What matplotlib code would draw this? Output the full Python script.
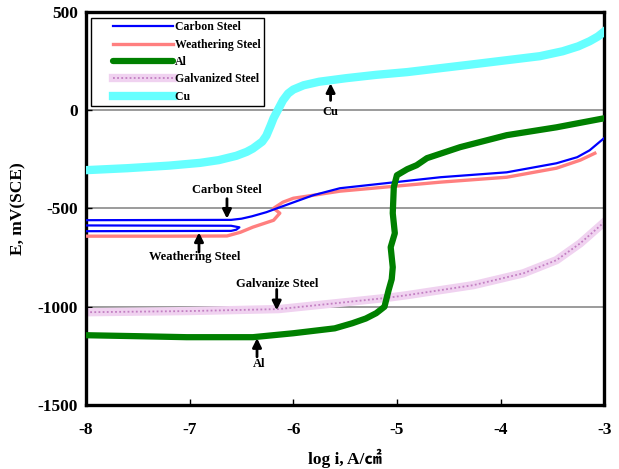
#!/usr/bin/env python3
# -*- coding: utf-8 -*-

"""
Polarization curves of several metals (E vs log i)
"""

import matplotlib.pyplot as plt
from matplotlib.legend_handler import HandlerLine2D, HandlerTuple
from matplotlib.lines import Line2D

plt.switch_backend('agg')
plt.rcParams['font.family'] = ['Liberation Serif', 'Noto Sans CJK SC', 'DejaVu Sans']
plt.rcParams['font.weight'] = 'bold'
plt.rcParams['axes.unicode_minus'] = False

# carbon steel (blue) - three cathodic sweeps then the anodic branch
carbon_x = [-8.3, -6.6, -6.55, -6.52, -6.6, -8.3, -8.3, -6.6, -6.5, -6.4,
            -6.26, -6.13, -5.81, -5.55, -4.58, -3.94, -3.46, -3.26, -3.14, -3.0]
carbon_e = [-616, -614, -608, -596, -588, -586, -560, -558, -552, -540,
            -519, -494, -433, -397, -341, -316, -270, -239, -204, -142]

# weathering steel (red)
weather_x = [-8.0, -7.2, -6.64, -6.51, -6.39, -6.19, -6.13, -6.19, -6.10,
             -6.0, -5.81, -5.55, -4.58, -3.94, -3.46, -3.23, -3.09]
weather_e = [-641, -641, -640, -621, -595, -560, -524, -499, -468,
             -448, -433, -412, -366, -341, -295, -254, -219]

# aluminium (green)
al_x = [-8.0, -7.5, -7.03, -6.39, -6.0, -5.6, -5.43, -5.3, -5.2, -5.12, -5.08,
        -5.05, -5.04, -5.06, -5.02, -5.04, -5.03, -5.0, -4.9, -4.81, -4.71,
        -4.39, -3.94, -3.46, -3.0]
al_e = [-1145, -1150, -1155, -1155, -1135, -1110, -1084, -1060, -1033, -1000,
        -916, -860, -799, -697, -626, -524, -392, -331, -300, -280, -244,
        -188, -127, -87, -41]

# galvanized steel (pink dotted)
galv_x = [-8.0, -7.0, -6.14, -5.55, -5.1, -4.9, -4.26, -3.78, -3.46, -3.23, -3.0]
galv_e = [-1028, -1022, -1012, -980, -955, -941, -890, -830, -763, -677, -570]

# copper (cyan)
cu_x = [-8.0, -7.6, -7.2, -6.9, -6.72, -6.55, -6.45, -6.39, -6.3, -6.26,
        -6.22, -6.19, -6.15, -6.1, -6.05, -6.0, -5.9, -5.75, -5.49, -5.2,
        -4.9, -4.26, -3.62, -3.4, -3.25, -3.14, -3.06, -3.0]
cu_e = [-305, -295, -282, -268, -254, -232, -212, -195, -160, -130,
        -80, -40, 0, 50, 85, 105, 127, 145, 163, 180,
        194, 234, 275, 300, 325, 351, 375, 400]

x_ticks = [-8, -7, -6, -5, -4, -3]
y_ticks = [500, 0, -500, -1000, -1500]


class ShiftedLine(HandlerLine2D):
    # leave a gap before the legend sample line
    def create_artists(self, legend, orig_handle, xdescent, ydescent,
                       width, height, fontsize, trans):
        shift = 1.6 * fontsize
        return super().create_artists(legend, orig_handle, xdescent - shift,
                                      ydescent, width - shift, height, fontsize, trans)


fig = plt.figure(figsize=(6.19, 4.69), dpi=100)
ax = fig.add_axes([0.139, 0.1365, 0.837, 0.838])

for g in [0, -500, -1000]:
    ax.axhline(g, color='#808080', lw=1.1, zorder=1)

h_c, = ax.plot(carbon_x, carbon_e, color='#0000ff', lw=1.6, zorder=4)
h_w, = ax.plot(weather_x, weather_e, color='#ff7f7f', lw=2.4, zorder=3)
h_a, = ax.plot(al_x, al_e, color='#008000', lw=4.5, solid_capstyle='round', zorder=5)
g1, = ax.plot(galv_x, galv_e, color='#f0d2f0', lw=6, zorder=2)
g2, = ax.plot(galv_x, galv_e, color='#c27fc2', lw=1.3, ls=(0, (1, 1.3)), zorder=2)
h_u, = ax.plot(cu_x, cu_e, color='#66ffff', lw=6, zorder=6)

ax.set_xlim(-8, -3)
ax.set_ylim(-1500, 500)
ax.set_xticks(x_ticks)
ax.set_yticks(y_ticks)
ax.tick_params(direction='in', length=4, width=1, labelsize=12.5)
ax.tick_params(axis='x', pad=12)
ax.tick_params(axis='y', pad=6)
for s in ax.spines.values():
    s.set_linewidth(2.4)

ax.set_xlabel('log i, A/㎠', fontsize=12.5, fontweight='bold', labelpad=8)
ax.set_ylabel('E, mV(SCE)', fontsize=12.5, fontweight='bold', labelpad=8)

# arrows and labels
arr = dict(arrowstyle='-|>', color='black', lw=2, mutation_scale=13,
           shrinkA=0, shrinkB=0)
notes = [
    ('Carbon Steel', -6.64, -407, -6.64, -450, -552),
    ('Weathering Steel', -6.95, -748, -6.91, -722, -622),
    ('Galvanize Steel', -6.16, -883, -6.16, -912, -1018),
    ('Al', -6.33, -1293, -6.35, -1255, -1160),
    ('Cu', -5.64, -10, -5.64, 50, 137),
]
for txt, tx, ty, ax_x, e0, e1 in notes:
    ax.annotate('', xy=(ax_x, e1), xytext=(ax_x, e0), arrowprops=arr, zorder=7)
    ax.text(tx, ty, txt, ha='center', va='center', fontsize=9, fontweight='bold',
            zorder=7)

handles = [h_c, h_w, h_a, (g1, g2), h_u]
labels = ['Carbon Steel', 'Weathering Steel', 'Al', 'Galvanized Steel', 'Cu       ']
leg = ax.legend(handles, labels, loc='upper left', bbox_to_anchor=(0.009, 0.985),
                prop={'size': 8.5, 'weight': 'bold'}, fancybox=False,
                edgecolor='black', framealpha=1, borderaxespad=0,
                handlelength=6.7, handletextpad=0.15, labelspacing=0.45,
                borderpad=0.3,
                handler_map={Line2D: ShiftedLine(),
                             tuple: HandlerTuple(ndivide=1, pad=0)})
leg.get_frame().set_linewidth(1.0)
leg.set_zorder(5.5)

fig.savefig('out.png', dpi=100)
plt.close()
